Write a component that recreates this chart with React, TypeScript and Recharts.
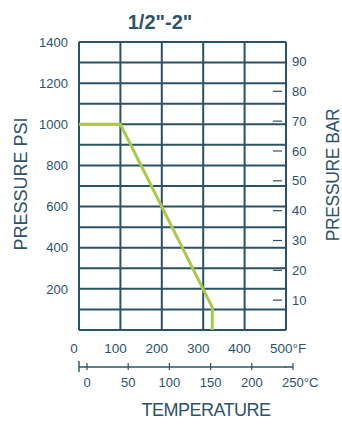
import React from 'react';
import { ComposedChart, Line, XAxis, YAxis, CartesianGrid } from 'recharts';

// ---- data ----
const tempF = [0, 100, 322, 322];
const pressurePsi = [1000, 1000, 110, 0];
const psiTicks = [200, 400, 600, 800, 1000, 1200, 1400];
const psiGrid = [0, 100, 200, 300, 400, 500, 600, 700, 800, 900, 1000, 1100, 1200, 1300, 1400];
const fTicks = [0, 100, 200, 300, 400, 500];
const cTicks = [0, 50, 100, 150, 200, 250];
const cDomain = [-9.7, 241.5];
const barTicks = [10, 20, 30, 40, 50, 60, 70, 80, 90];
const PSI_PER_BAR = 14.5038;
const title = '1/2"-2"';

const data = tempF.map((f, i) => ({ f, c: ((f - 32) * 5) / 9, psi: pressurePsi[i] }));

const FONT = '"Liberation Sans", Arial, sans-serif';
const INK = '#2d5369';
const GRID = '#2a5266';
const LINE = '#aac94a';

const LeftTick = (p: any) => (
  <text x={p.x - 11} y={p.y} dy="0.36em" textAnchor="end" fontSize={13} fill={INK} fontFamily={FONT}>
    {p.payload.value}
  </text>
);

const RightTick = (p: any) => (
  <g>
    {p.payload.value !== 90 && (
      <line x1={p.x - 13} x2={p.x - 4} y1={p.y} y2={p.y} stroke={GRID} strokeWidth={1.2} />
    )}
    <text x={p.x + 6} y={p.y} dy="0.36em" textAnchor="start" fontSize={13} fill={INK} fontFamily={FONT}>
      {p.payload.value}
    </text>
  </g>
);

const FTick = (p: any) => {
  const v = p.payload.value;
  if (v === 500) {
    return (
      <text x={p.x - 16} y={p.y + 23} textAnchor="start" fontSize={13.5} fill={INK} fontFamily={FONT}>
        {v}°F
      </text>
    );
  }
  return (
    <text x={p.x - 5} y={p.y + 23} textAnchor="middle" fontSize={13.5} fill={INK} fontFamily={FONT}>
      {v}
    </text>
  );
};

const CTick = (p: any) => {
  const v = p.payload.value;
  const last = v === 250;
  return (
    <g>
      <line x1={p.x} x2={p.x} y1={p.y - 4} y2={p.y + 3} stroke={GRID} strokeWidth={1.2} />
      {v === 0 && <line x1={p.x - 8} x2={p.x - 8} y1={p.y - 6} y2={p.y + 5} stroke={GRID} strokeWidth={1.4} />}
      {last && <line x1={p.x - 8} x2={p.x} y1={p.y} y2={p.y} stroke={GRID} strokeWidth={1.5} />}
      {last ? (
        <text x={p.x - 11} y={p.y + 20} textAnchor="start" fontSize={13} fill={INK} fontFamily={FONT}>
          {v}°C
        </text>
      ) : (
        <text x={p.x} y={p.y + 20} textAnchor="middle" fontSize={13} fill={INK} fontFamily={FONT}>
          {v}
        </text>
      )}
    </g>
  );
};

const overlay = (left: number, top: number, extra: React.CSSProperties = {}): React.CSSProperties => ({
  position: 'absolute',
  left,
  top,
  transform: 'translate(-50%, -50%)',
  fontFamily: FONT,
  color: INK,
  whiteSpace: 'nowrap',
  ...extra,
});

export default function App() {
  return (
    <div style={{ position: 'absolute', left: 0, top: 0, width: 342, height: 426, background: '#fff' }}>
      <ComposedChart
        width={342}
        height={426}
        data={data}
        margin={{ top: 42, right: 0, bottom: 19, left: 0 }}
      >
        <CartesianGrid
          xAxisId="a"
          yAxisId="psi"
          stroke={GRID}
          strokeWidth={2}
          horizontalValues={psiGrid}
          verticalValues={fTicks}
        />
        <XAxis
          xAxisId="a"
          dataKey="f"
          type="number"
          domain={[0, 500]}
          ticks={fTicks}
          interval={0}
          height={37}
          axisLine={false}
          tickLine={false}
          tickSize={0}
          tickMargin={0}
          tick={FTick}
        />
        <XAxis
          xAxisId="b"
          dataKey="c"
          type="number"
          domain={cDomain}
          allowDataOverflow
          ticks={cTicks}
          interval={0}
          height={40}
          axisLine={{ stroke: GRID, strokeWidth: 1.5 }}
          tickLine={false}
          tickSize={0}
          tickMargin={0}
          tick={CTick}
        />
        <YAxis
          yAxisId="psi"
          type="number"
          domain={[0, 1400]}
          ticks={psiTicks}
          interval={0}
          width={79}
          axisLine={false}
          tickLine={false}
          tickSize={0}
          tickMargin={0}
          tick={LeftTick}
        />
        <YAxis
          yAxisId="bar"
          orientation="right"
          type="number"
          domain={[0, 1400 / PSI_PER_BAR]}
          allowDataOverflow
          ticks={barTicks}
          interval={0}
          width={56}
          axisLine={false}
          tickLine={false}
          tickSize={0}
          tickMargin={0}
          tick={RightTick}
        />
        <Line
          xAxisId="a"
          yAxisId="psi"
          type="linear"
          dataKey="psi"
          stroke={LINE}
          strokeWidth={3}
          dot={false}
          isAnimationActive={false}
        />
      </ComposedChart>
      <div style={overlay(160, 22, { fontSize: 20, fontWeight: 'bold' })}>{title}</div>
      <div style={overlay(21, 184, { fontSize: 18, transform: 'translate(-50%, -50%) rotate(-90deg)' })}>
        PRESSURE PSI
      </div>
      <div style={overlay(333, 175, { fontSize: 17.5, letterSpacing: -0.4, transform: 'translate(-50%, -50%) rotate(-90deg)' })}>
        PRESSURE BAR
      </div>
      <div style={overlay(206, 410, { fontSize: 18, letterSpacing: -0.5 })}>TEMPERATURE</div>
    </div>
  );
}
